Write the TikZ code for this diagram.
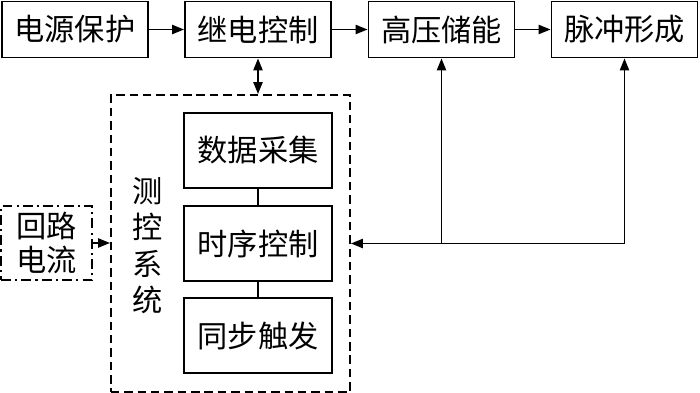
\documentclass[tikz,border=0pt]{standalone}
\usepackage{fontspec}
\newfontfamily\cjk{Noto Sans CJK SC}
\usepackage{tikz}
\usetikzlibrary{arrows.meta, positioning, calc}

\begin{document}
\begin{tikzpicture}[
    x=0.025cm, y=-0.025cm,
    kuang/.style={draw, line width=1.3pt, minimum width=3.65cm, minimum height=1.4cm, inner sep=0pt, font=\cjk\fontsize{21.5}{24}\selectfont},
    neikuang/.style={draw, line width=1.3pt, minimum width=3.7cm, minimum height=1.875cm, inner sep=0pt, font=\cjk\fontsize{21.5}{24}\selectfont},
    xuxian/.style={draw, line width=1.3pt, dash pattern=on 6pt off 3.5pt, minimum width=5.975cm, minimum height=7.425cm, inner sep=0pt},
    dianhua/.style={draw, line width=1.3pt, dash pattern=on 7pt off 3pt on 1.5pt off 3pt, minimum width=2.275cm, minimum height=1.85cm, inner sep=0pt, align=center, font=\cjk\fontsize{21.5}{24.5}\selectfont},
    jiantou/.style={-{Triangle[length=8.5pt, width=6.5pt]}, line width=1.3pt},
    lianxian/.style={line width=1.3pt}
  ]
    \useasboundingbox (0,0) rectangle (700,393);
    % top row
    \node[kuang] (dy) at (75,29.5) {电源保护};
    \node[kuang] (jd) at (258,29.5) {继电控制};
    \node[kuang] (gy) at (441.5,29.5) {高压储能};
    \node[kuang] (mc) at (624.5,29.5) {脉冲形成};
    % measurement and control system
    \node[xuxian] (ck) at (230.5,243.5) {};
    \node[neikuang] (sj) at (258,150.5) {数据采集};
    \node[neikuang] (sx) at (258,243.5) {时序控制};
    \node[neikuang] (tb) at (258,335.5) {同步触发};
    \node[align=center, inner sep=0pt, font=\cjk\fontsize{21.5}{26}\selectfont] (bq) at (148,245.5) {测\\控\\系\\统};
    \node[dianhua] (hl) at (46.5,243) {回路\\电流};

    \draw[jiantou] (dy) -- (jd);
    \draw[jiantou] (jd) -- (gy);
    \draw[jiantou] (gy) -- (mc);
    \draw[{Triangle[length=8.5pt, width=6.5pt]}-{Triangle[length=8.5pt, width=6.5pt]}, line width=1.3pt] (jd.south) -- (jd.south |- ck.north);
    \draw[lianxian] (sj) -- (sx);
    \draw[lianxian] (sx) -- (tb);
    \draw[jiantou] (hl.east) -- (hl.east -| ck.west);
    % feedback
    \coordinate (fz) at (gy.south |- ck.east);
    \draw[jiantou] (fz) -- (gy.south);
    \draw[jiantou] (fz) -| (mc.south);
    \draw[jiantou] (fz) -- (ck.east);
  \end{tikzpicture}
\end{document}
